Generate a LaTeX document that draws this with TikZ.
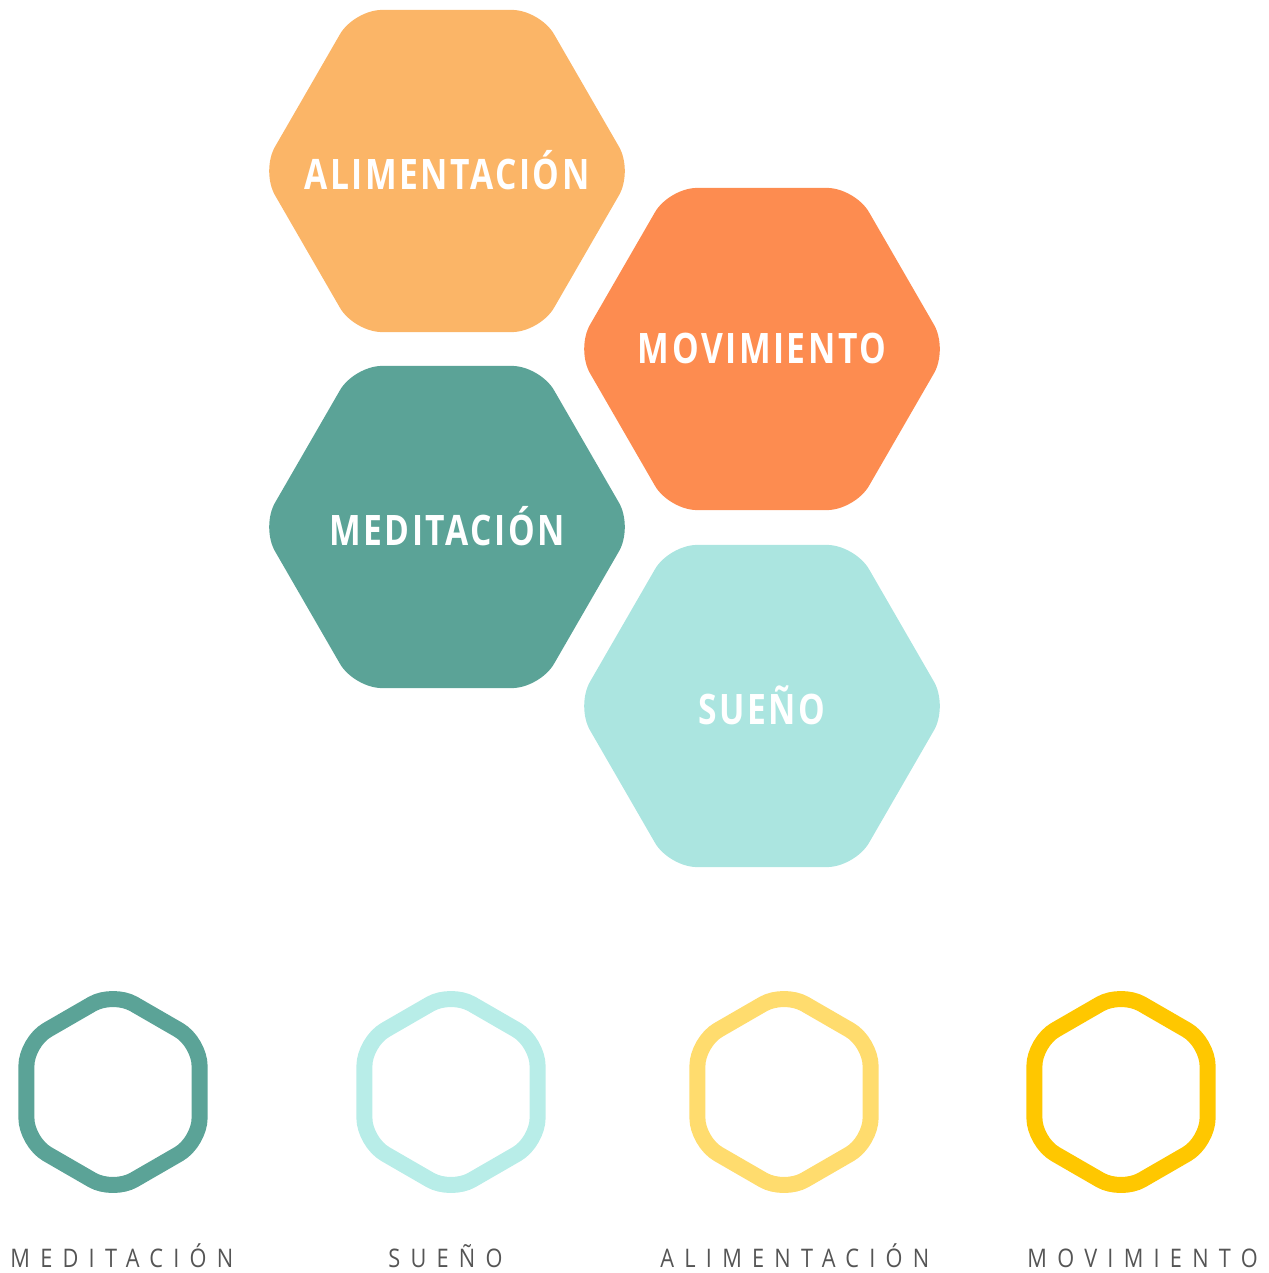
\documentclass[tikz,border=0pt]{standalone}
\usepackage{fontspec}
\usetikzlibrary{shapes.geometric}
\newfontfamily\hexfont[LetterSpace=6,FakeStretch=0.8]{Open Sans}
\newfontfamily\labelfont[LetterSpace=40,FakeStretch=0.85]{Open Sans}
\definecolor{alimcolor}{HTML}{FBB567}
\definecolor{movcolor}{HTML}{FD8C50}
\definecolor{medcolor}{HTML}{5BA397}
\definecolor{suenocolor}{HTML}{ABE5E0}
\definecolor{suenoline}{HTML}{B8EDE8}
\definecolor{alimline}{HTML}{FFDC6E}
\definecolor{movline}{HTML}{FFC700}
\definecolor{labelgray}{HTML}{555555}
\begin{document}
\begin{tikzpicture}[x=0.5pt,y=-0.5pt,
    bighex/.style={regular polygon, regular polygon sides=6, minimum size=186pt,
        inner sep=0pt, outer sep=0pt, rounded corners=14pt},
    hextext/.style={inner sep=0pt, text=white,
        font=\hexfont\bfseries\fontsize{21}{21}\selectfont},
    smallhex/.style={regular polygon, regular polygon sides=6, shape border rotate=30,
        minimum size=100pt, inner sep=0pt, outer sep=0pt, rounded corners=12pt,
        line width=8pt},
    hexlabel/.style={anchor=base west, inner sep=0pt, text=labelgray,
        font=\labelfont\fontsize{12.8}{13}\selectfont}]
    \useasboundingbox (0,0) rectangle (1268,1273);
    % honeycomb
    \node[bighex, fill=alimcolor] (alim) at (447,171) {};
    \node[bighex, fill=movcolor] (mov) at (762,349) {};
    \node[bighex, fill=medcolor] (med) at (447,527) {};
    \node[bighex, fill=suenocolor] (sueno) at (762,706) {};
    \node[hextext] (alimtext) at (447,170) {ALIMENTACIÓN};
    \node[hextext] (movtext) at (762,348) {MOVIMIENTO};
    \node[hextext] (medtext) at (447,526) {MEDITACIÓN};
    \node[hextext] (suenotext) at (762,705) {SUEÑO};
    % outline icons
    \node[smallhex, draw=medcolor] (medicon) at (113,1092) {};
    \node[smallhex, draw=suenoline] (suenoicon) at (451,1092) {};
    \node[smallhex, draw=alimline] (alimicon) at (784,1092) {};
    \node[smallhex, draw=movline] (movicon) at (1121,1092) {};
    \node[hexlabel] (medlabel) at (10,1267) {MEDITACIÓN};
    \node[hexlabel] (suenolabel) at (388,1267) {SUEÑO};
    \node[hexlabel] (alimlabel) at (660,1267) {ALIMENTACIÓN};
    \node[hexlabel] (movlabel) at (1027,1267) {MOVIMIENTO};
\end{tikzpicture}
\end{document}
